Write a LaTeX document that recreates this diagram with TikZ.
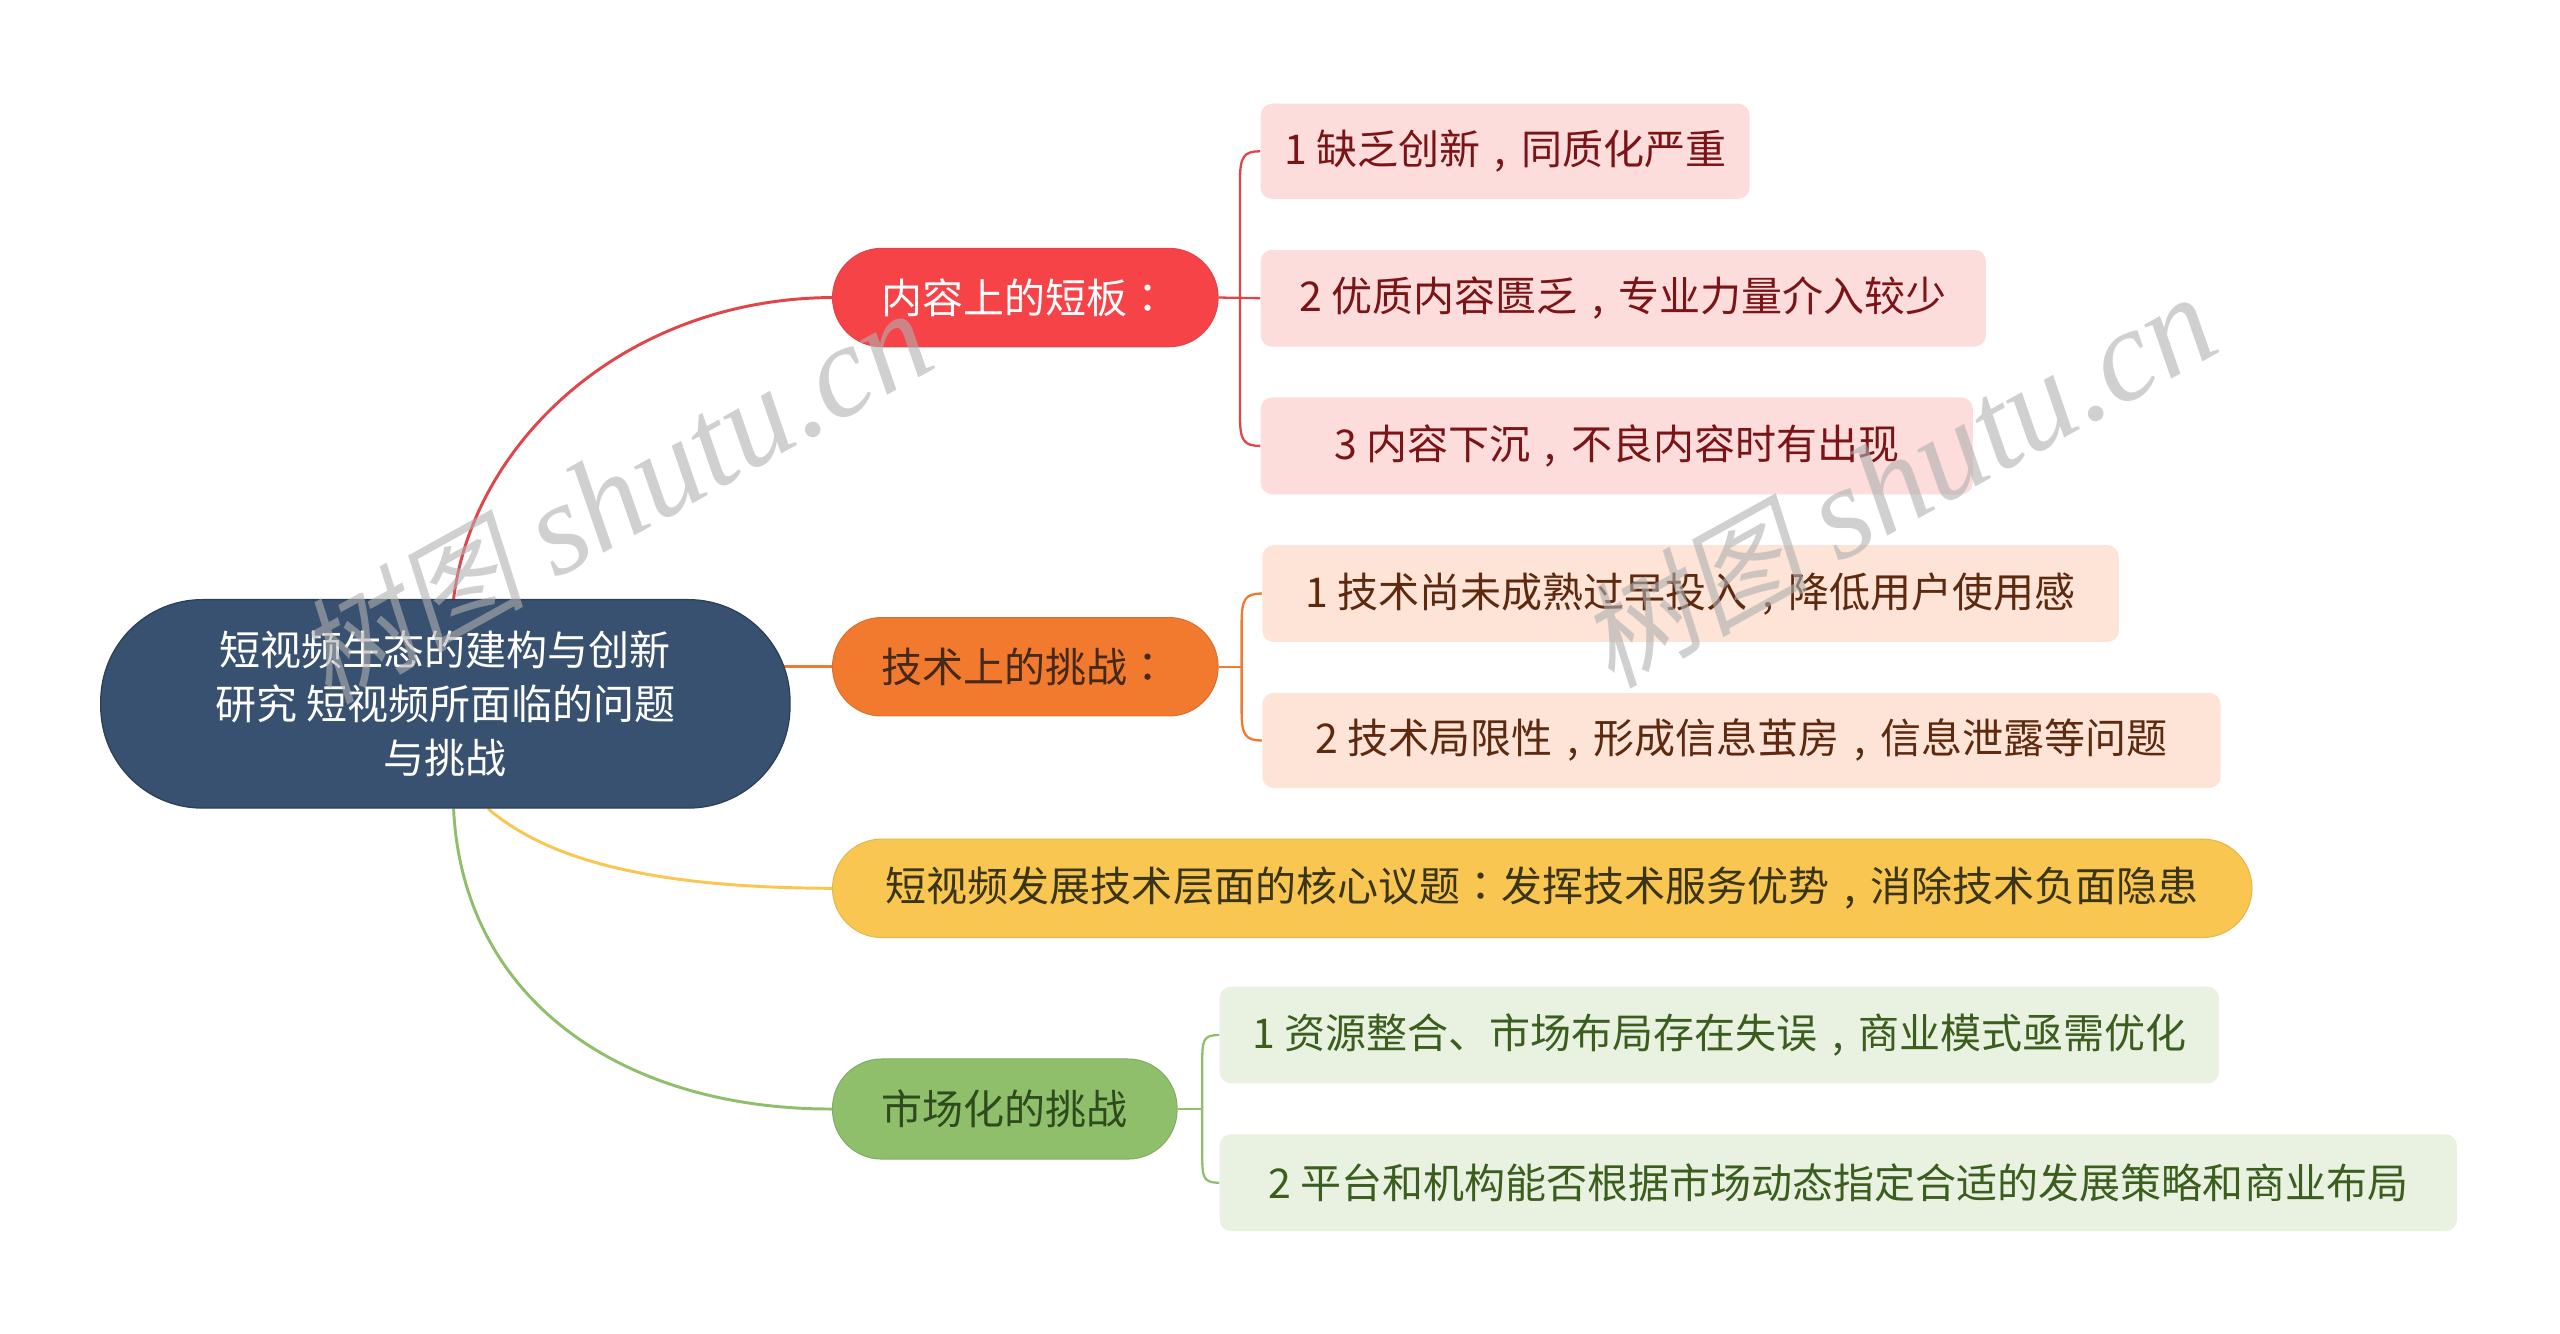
\documentclass[tikz,border=0pt]{standalone}
\usepackage{fontspec}
\setmainfont{Noto Sans CJK SC}
\newfontfamily\tcp{Noto Sans CJK TC}
\newfontfamily\wmlat{Liberation Serif}
\newfontfamily\wmcjk[FakeSlant=0.2]{Noto Sans CJK SC}
\newcommand{\cma}{\makebox[1em][c]{,}}
\newcommand{\cln}{{\tcp ：}}
\usetikzlibrary{backgrounds,calc}
\definecolor{rootC}{HTML}{385170}
\definecolor{rootD}{HTML}{2C4058}
\definecolor{redC}{HTML}{F64348}
\definecolor{redL}{HTML}{E0454A}
\definecolor{orgC}{HTML}{F27A2F}
\definecolor{yelC}{HTML}{F8C651}
\definecolor{grnC}{HTML}{8FBF6B}
\definecolor{leafR}{HTML}{FDDCDC}
\definecolor{leafO}{HTML}{FDE4D7}
\definecolor{leafG}{HTML}{E9F1E0}
\definecolor{txtR}{HTML}{7B1416}
\definecolor{txtO}{HTML}{5E2A0F}
\definecolor{txtG}{HTML}{3B5E1F}
\definecolor{txtB2}{HTML}{45291A}
\definecolor{txtB3}{HTML}{3B3518}
\definecolor{txtB4}{HTML}{2F4A1C}
\definecolor{wmC}{HTML}{B0B0B0}
\begin{document}
\begin{tikzpicture}[x=1pt,y=-1pt,
  box/.style={anchor=north west, inner sep=0pt, font=\fontsize{25}{30}\selectfont},
  leafr/.style={box, rounded corners=7pt, fill=leafR, text=txtR},
  leafo/.style={box, rounded corners=7pt, fill=leafO, text=txtO},
  leafg/.style={box, rounded corners=7pt, fill=leafG, text=txtG},
  pill/.style={box, rounded corners=30pt, minimum height=60pt},
  main/.style={line width=1.8pt},
  thin/.style={line width=1.4pt},
  wm/.style={text=wmC, opacity=0.6, inner sep=0pt}]
\useasboundingbox (0,0) rectangle (1560,812.3);

% root
\node[box, minimum width=420pt, minimum height=127pt, rounded corners=62pt,
  fill=rootC, draw=rootD, line width=0.8pt, text=white, align=center,
  font=\fontsize{25}{33}\selectfont] (root) at (61,365)
  {短视频生态的建构与创新\\研究 短视频所面临的问题\\与挑战};

% branches
\node[pill, minimum width=235pt, fill=redC, draw=redL, line width=0.6pt, text=white] (b1) at (507,151) {内容上的短板\cln};
\node[pill, minimum width=235pt, fill=orgC, draw=orgC!90!black, line width=0.6pt, text=txtB2] (b2) at (507,376) {技术上的挑战\cln};
\node[pill, minimum width=865pt, fill=yelC, draw=yelC!92!black, line width=0.6pt, text=txtB3] (b3) at (507,511) {短视频发展技术层面的核心议题\cln 发挥技术服务优势\cma 消除技术负面隐患};
\node[pill, minimum width=210pt, minimum height=61pt, fill=grnC, draw=grnC!90!black, line width=0.6pt, text=txtB4] (b4) at (507,645) {市场化的挑战};

% leaves
\node[leafr, minimum width=298pt, minimum height=58pt] (l11) at (768,63) {1 缺乏创新\cma 同质化严重};
\node[leafr, minimum width=442pt, minimum height=59pt] (l12) at (768,152) {2 优质内容匮乏\cma 专业力量介入较少};
\node[leafr, minimum width=434pt, minimum height=59pt] (l13) at (768,242) {3 内容下沉\cma 不良内容时有出现};
\node[leafo, minimum width=522pt, minimum height=59pt] (l21) at (769,332) {1 技术尚未成熟过早投入\cma 降低用户使用感};
\node[leafo, minimum width=584pt, minimum height=58pt] (l22) at (769,422) {2 技术局限性\cma 形成信息茧房\cma 信息泄露等问题};
\node[leafg, minimum width=609pt, minimum height=59pt] (l41) at (743,601) {1 资源整合、市场布局存在失误\cma 商业模式亟需优化};
\node[leafg, minimum width=754pt, minimum height=59pt] (l42) at (743,691) {2 平台和机构能否根据市场动态指定合适的发展策略和商业布局};

\begin{scope}[on background layer]
  % root to branches
  \draw[main, redL] ([xshift=5pt]root.north) .. controls (288,270) and (380,182) .. (b1.west);
  \draw[main, orgC] ([xshift=-6pt]root.east |- b2.west) -- (b2.west);
  \draw[main, yelC] ([xshift=26pt]root.south) .. controls (335,525) and (400,541) .. (b3.west);
  \draw[main, grnC] ([xshift=5pt]root.south) .. controls (282,610) and (380,676) .. (b4.west);
  % branch 1 bracket
  \coordinate (j1) at ([xshift=13pt]b1.east);
  \draw[thin, redL] (b1.east) -- (l12.west);
  \draw[thin, redL] (l11.west) .. controls +(-10,0) and +(0,-15) .. ($(j1 |- l11.west)+(0,18)$)
     -- ($(j1 |- l13.west)+(0,-18)$) .. controls +(0,15) and +(-10,0) .. (l13.west);
  % branch 2 bracket
  \coordinate (j2) at ([xshift=14pt]b2.east);
  \draw[thin, orgC] (b2.east) -- (j2);
  \draw[thin, orgC] (l21.west) .. controls +(-10,0) and +(0,-15) .. ($(j2 |- l21.west)+(0,18)$)
     -- ($(j2 |- l22.west)+(0,-18)$) .. controls +(0,15) and +(-10,0) .. (l22.west);
  % branch 4 bracket
  \coordinate (j4) at ([xshift=15pt]b4.east);
  \draw[thin, grnC] (b4.east) -- (j4);
  \draw[thin, grnC] (l41.west) .. controls +(-10,0) and +(0,-15) .. ($(j4 |- l41.west)+(0,18)$)
     -- ($(j4 |- l42.west)+(0,-18)$) .. controls +(0,15) and +(-10,0) .. (l42.west);
\end{scope}

% watermarks
\node[wm, rotate=29, anchor=base west] (wm1) at (200,430)
  {{\wmcjk\fontsize{70}{70}\selectfont 树图}\hspace{18pt}{\wmlat\itshape\fontsize{80}{80}\selectfont shutu.cn}};
\node[wm, rotate=29, anchor=base west] (wm2) at (982,420)
  {{\wmcjk\fontsize{70}{70}\selectfont 树图}\hspace{18pt}{\wmlat\itshape\fontsize{80}{80}\selectfont shutu.cn}};
\end{tikzpicture}
\end{document}
